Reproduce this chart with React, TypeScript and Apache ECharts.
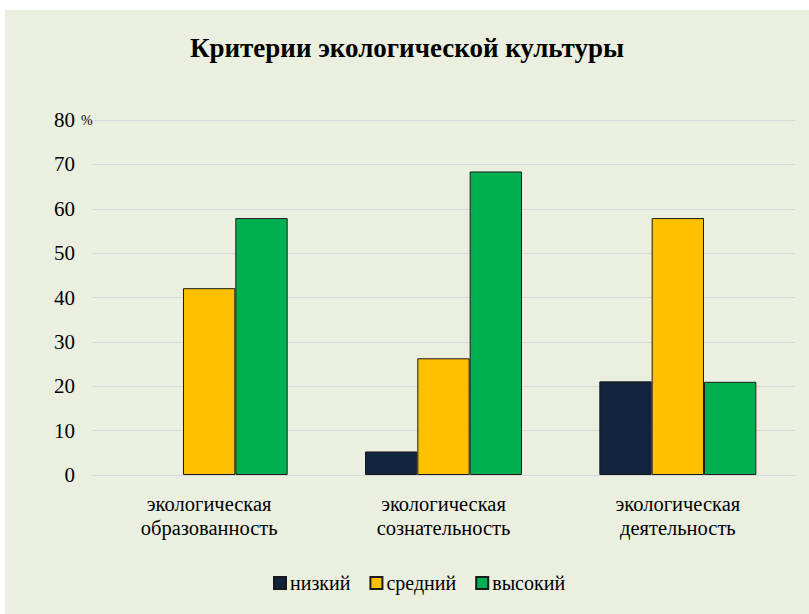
import React, { useEffect, useRef } from "react";
import * as echarts from "echarts";

const categories = ["экологическая\nобразованность", "экологическая\nсознательность", "экологическая\nдеятельность"];
const seriesNames = ["низкий", "средний", "высокий"];
const low = [0, 5.3, 21.1];
const mid = [42.1, 26.3, 57.9];
const high = [57.9, 68.4, 21.0];
const colors = ["#10243E", "#FFC000", "#00B050"];

const FONT = "Liberation Serif";

export default function App() {
  const ref = useRef<HTMLDivElement>(null);
  useEffect(() => {
    if (!ref.current) return;
    const chart = echarts.init(ref.current, undefined, { renderer: "svg" });
    const values = [low, mid, high];
    chart.setOption({
      animation: false,
      backgroundColor: "#EBEFDF",
      textStyle: { fontFamily: FONT },
      title: {
        text: "Критерии экологической культуры",
        left: "center",
        top: 19,
        textStyle: { fontFamily: FONT, fontWeight: "bold", fontSize: 27, color: "#000" },
      },
      legend: {
        data: seriesNames,
        bottom: 16,
        left: 263,
        itemWidth: 12,
        itemHeight: 12,
        itemGap: 19,
        icon: "rect",
        textStyle: { fontFamily: FONT, fontSize: 20, color: "#000", padding: [0, 0, 0, -1] },
      },
      grid: { left: 87, right: 14, top: 110, bottom: 139 },
      xAxis: {
        type: "category",
        data: categories,
        axisLine: { lineStyle: { color: "#D9D9D9", width: 1 } },
        axisTick: { show: false },
        axisLabel: { fontFamily: FONT, fontSize: 20.5, color: "#000", lineHeight: 24, margin: 17 },
      },
      yAxis: {
        type: "value",
        min: 0,
        max: 80,
        interval: 10,
        axisLine: { show: false },
        axisTick: { show: false },
        splitLine: { lineStyle: { color: "#D9D9D9", width: 1 } },
        axisLabel: { fontFamily: FONT, fontSize: 21, color: "#000", margin: 17 },
      },
      graphic: [
        {
          type: "text",
          left: 76,
          top: 103,
          style: { text: "%", fontFamily: FONT, fontSize: 14, fill: "#000" },
        },
      ],
      series: seriesNames.map((name, i) => ({
        name,
        type: "bar",
        data: values[i].map((v) => (v === 0 ? { value: v, itemStyle: { borderWidth: 0 } } : v)),
        barGap: "0%",
        barCategoryGap: "33%",
        itemStyle: { color: colors[i], borderColor: "#1a1a1a", borderWidth: 1 },
      })),
    });
    return () => chart.dispose();
  }, []);
  return (
    <div
      ref={ref}
      style={{ position: "fixed", left: 5, top: 10, width: 804, height: 604 }}
    />
  );
}
